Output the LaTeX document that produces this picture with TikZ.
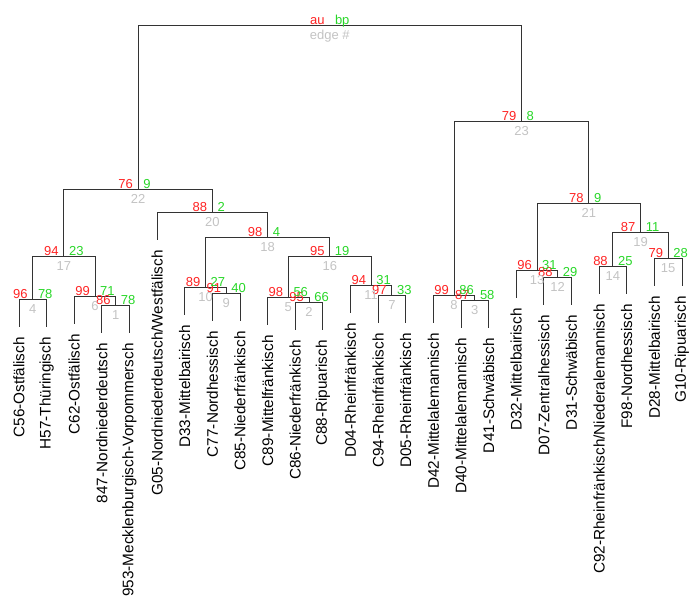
\documentclass[tikz,border=0pt]{standalone}
\usepackage{fontspec}
\setmainfont{Liberation Sans}
\definecolor{aured}{RGB}{255,35,35}
\definecolor{bpgreen}{RGB}{40,215,40}
\definecolor{edgegray}{RGB}{195,195,195}
\begin{document}
\begin{tikzpicture}[x=1pt,y=-1pt,
  branch/.style={draw=black!80, line width=1pt},
  au/.style={anchor=base east, text=aured, inner sep=0pt, font=\fontsize{13}{13}\selectfont},
  bp/.style={anchor=base west, text=bpgreen, inner sep=0pt, font=\fontsize{13}{13}\selectfont},
  edgenr/.style={anchor=north, text=edgegray, inner sep=0pt, font=\fontsize{13}{13}\selectfont},
  leaf/.style={anchor=east, rotate=90, inner sep=0pt, font=\fontsize{15.3}{17}\selectfont}]
\useasboundingbox (0,0) rectangle (700,603);
% merge points of the clusters
\foreach \n/\x/\y in {1/115.7/305, 2/309.1/302, 3/474.8/300, 4/32.8/299, 5/288.3/297,
  6/95/296, 7/391.9/295, 8/454.1/295, 9/226.2/293, 10/205.5/287, 11/371.2/285,
  12/557.7/277, 13/537/270, 14/612.9/266, 15/668.2/258, 16/329.75/256, 17/63.9/256,
  18/267.6/237, 19/640.6/232, 20/212.4/212, 21/588.8/203, 22/138.1/189,
  23/521.5/121, 24/329.8/25}{
\coordinate (e\n) at (\x,\y);
}
% leaves
\foreach \i/\y/\name in {1/327/C56-Ostfälisch, 2/327/H57-Thüringisch, 3/324/C62-Ostfälisch,
  4/333/847-Nordniederdeutsch, 5/333/953-Mecklenburgisch-Vorpommersch,
  6/240/G05-Nordniederdeutsch\slash Westfälisch, 7/315/D33-Mittelbairisch,
  8/321/C77-Nordhessisch, 9/321/C85-Niederfränkisch, 10/325/C89-Mittelfränkisch,
  11/330/C86-Niederfränkisch, 12/330/C88-Ripuarisch, 13/313/D04-Rheinfränkisch,
  14/323/C94-Rheinfränkisch, 15/323/D05-Rheinfränkisch, 16/323/D42-Mittelalemannisch,
  17/328/D40-Mittelalemannisch, 18/328/D41-Schwäbisch, 19/298/D32-Mittelbairisch,
  20/305/D07-Zentralhessisch, 21/305/D31-Schwäbisch,
  22/294/C92-Rheinfränkisch\slash Niederalemannisch, 23/294/F98-Nordhessisch,
  24/286/D28-Mittelbairisch, 25/286/G10-Ripuarisch}{
\coordinate (l\i) at (19+27.625*\i-27.625,\y);
\node[leaf] (t\i) at ([yshift=-10pt]l\i) {\name};
}
% branches
\foreach \p/\c in {e24/e22, e24/e23, e23/e8, e23/e21, e22/e17, e22/e20, e21/e13, e21/e19,
  e20/l6, e20/e18, e19/e14, e19/e15, e18/e10, e18/e16, e17/e4, e17/e6, e16/e5, e16/e11,
  e15/l24, e15/l25, e14/l22, e14/l23, e13/l19, e13/e12, e12/l20, e12/l21, e11/l13, e11/e7,
  e10/l7, e10/e9, e9/l8, e9/l9, e8/l16, e8/e3, e7/l14, e7/l15, e6/l3, e6/e1,
  e5/l10, e5/e2, e4/l1, e4/l2, e3/l17, e3/l18, e2/l11, e2/l12, e1/l4, e1/l5}{
\draw[branch] (\p) -| (\c);
}
% au / bp / edge numbers
\foreach \n/\a/\b in {1/86/78, 2/95/66, 3/87/58, 4/96/78, 5/98/56, 6/99/71, 7/97/33,
  8/99/86, 9/91/40, 10/89/27, 11/94/31, 12/88/29, 13/96/31, 14/88/25, 15/79/28,
  16/95/19, 17/94/23, 18/98/4, 19/87/11, 20/88/2, 21/78/9, 22/76/9, 23/79/8}{
\node[au] (au\n) at ([xshift=-5pt,yshift=1pt]e\n) {\a};
\node[bp] (bp\n) at ([xshift=5pt,yshift=1pt]e\n) {\b};
\node[edgenr] (nr\n) at ([yshift=-5pt]e\n) {\n};
}
\node[au] (au24) at ([xshift=-5pt,yshift=1pt]e24) {au};
\node[bp] (bp24) at ([xshift=5pt,yshift=1pt]e24) {bp};
\node[edgenr] (nr24) at ([yshift=-5pt]e24) {edge \#};
\end{tikzpicture}
\end{document}
